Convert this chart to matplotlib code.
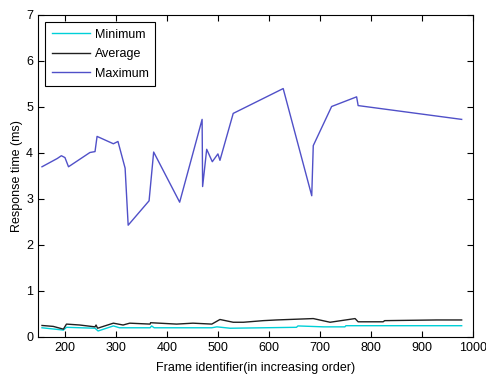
import matplotlib.pyplot as plt

# frame ids / response times
max_x = [155, 185, 193, 200, 207, 249, 259, 263, 295, 304, 318, 321, 324, 365,
         374, 425, 469, 470, 478, 489, 500, 504, 530, 628, 684, 687, 723, 772,
         775, 978]
max_y = [3.70, 3.88, 3.94, 3.90, 3.70, 4.01, 4.03, 4.36, 4.20, 4.25, 3.67, 3.05,
         2.43, 2.96, 4.02, 2.93, 4.73, 3.27, 4.08, 3.81, 3.98, 3.84, 4.86, 5.40,
         3.07, 4.16, 5.01, 5.22, 5.03, 4.73]

avg_x = [155, 177, 197, 203, 229, 259, 261, 264, 295, 314, 327, 367, 368, 419,
         451, 488, 504, 530, 550, 589, 615, 687, 720, 769, 775, 824, 827, 929,
         978]
avg_y = [0.25, 0.23, 0.17, 0.28, 0.26, 0.22, 0.26, 0.19, 0.30, 0.26, 0.30, 0.28,
         0.31, 0.28, 0.30, 0.28, 0.38, 0.32, 0.32, 0.355, 0.37, 0.40, 0.32, 0.40,
         0.33, 0.33, 0.355, 0.37, 0.37]

min_x = [155, 197, 203, 259, 265, 295, 307, 367, 370, 375, 488, 498, 524, 654,
         657, 707, 749, 751, 978]
min_y = [0.20, 0.15, 0.21, 0.19, 0.13, 0.24, 0.20, 0.20, 0.24, 0.20, 0.20, 0.22,
         0.19, 0.21, 0.24, 0.22, 0.22, 0.245, 0.245]

plt.rcParams['font.family'] = ['Liberation Sans', 'DejaVu Sans']

fig = plt.figure(figsize=(4.86, 3.74), dpi=100)
ax = fig.add_axes([0.078, 0.099, 0.895, 0.861])

ax.plot(min_x, min_y, color='#00d0d8', lw=1, label='Minimum')
ax.plot(avg_x, avg_y, color='#202020', lw=1, label='Average')
ax.plot(max_x, max_y, color='#5050c8', lw=1, label='Maximum')

ax.set_xlim(147, 1000)
ax.set_ylim(0, 7)
ax.set_xticks(range(200, 1001, 100))
ax.set_yticks(range(0, 8))
ax.tick_params(direction='in', top=True, right=True, labelsize=9, length=4)
ax.set_xlabel('Frame identifier(in increasing order)', fontsize=9, labelpad=6)
ax.set_ylabel('Response time (ms)', fontsize=9, labelpad=2)

leg = ax.legend(loc='upper left', fontsize=9, fancybox=False, framealpha=1,
                edgecolor='black', handlelength=3.1, handletextpad=0.35,
                borderpad=0.5, labelspacing=0.6, borderaxespad=0.6)
leg.get_frame().set_linewidth(0.8)

fig.savefig('out.png')
